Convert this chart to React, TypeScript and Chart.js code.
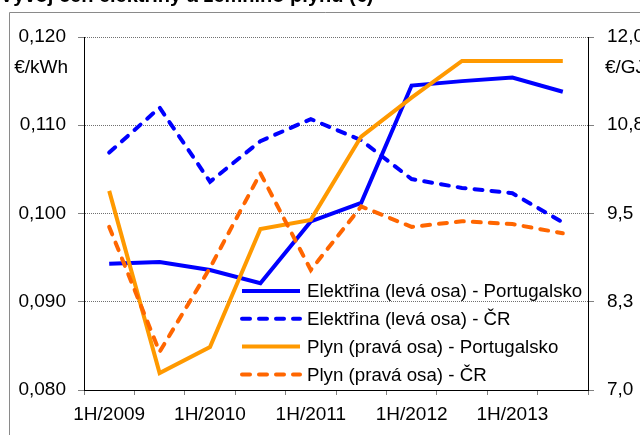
import React, { useEffect, useRef } from "react";
import { Chart, registerables } from "chart.js";

Chart.register(...registerables);

const categories = ["1H/2009", "2H/2009", "1H/2010", "2H/2010", "1H/2011", "2H/2011", "1H/2012", "2H/2012", "1H/2013", "2H/2013"];
const elektrinaPT = [0.0943, 0.0945, 0.0936, 0.0921, 0.0991, 0.1012, 0.1145, 0.115, 0.1154, 0.1138];
const elektrinaCR = [0.1069, 0.112, 0.1036, 0.1082, 0.1107, 0.1083, 0.1039, 0.1029, 0.1023, 0.099];
const plynPT = [9.82, 7.24, 7.61, 9.28, 9.41, 10.59, 11.14, 11.66, 11.66, 11.66];
const plynCR = [9.31, 7.54, 8.73, 10.07, 8.7, 9.6, 9.31, 9.39, 9.35, 9.22];
const seriesNames = [
  "Elektřina (levá osa) - Portugalsko",
  "Elektřina (levá osa) - ČR",
  "Plyn (pravá osa) - Portugalsko",
  "Plyn (pravá osa) - ČR",
];
const titleText = "Vývoj cen elektřiny a zemního plynu (€)";
const leftUnit = "€/kWh";
const rightUnit = "€/GJ";

const FONT = "'Liberation Sans', Arial, sans-serif";

const decorPlugin = {
  id: "decor",
  beforeDraw(chart: any) {
    const ctx = chart.ctx;
    ctx.save();
    ctx.fillStyle = "#fff";
    ctx.fillRect(0, 0, chart.width, chart.height);
    ctx.strokeStyle = "#8a8a8a";
    ctx.lineWidth = 1;
    ctx.beginPath();
    ctx.moveTo(9.5, chart.height + 5);
    ctx.lineTo(9.5, 12.5);
    ctx.lineTo(chart.width + 5, 12.5);
    ctx.stroke();
    ctx.fillStyle = "#000";
    ctx.font = `bold 20px ${FONT}`;
    ctx.textBaseline = "alphabetic";
    ctx.textAlign = "left";
    ctx.fillText(titleText, 0, 2);
    ctx.font = `19px ${FONT}`;
    ctx.textBaseline = "middle";
    ctx.textAlign = "right";
    ctx.fillText(leftUnit, 68, 68);
    ctx.textAlign = "left";
    ctx.fillText(rightUnit, 605, 68);
    ctx.restore();
  },
  afterDatasetsDraw(chart: any) {
    const ctx = chart.ctx;
    const ds = chart.data.datasets;
    ctx.save();
    ctx.font = `18.7px ${FONT}`;
    ctx.textBaseline = "middle";
    ctx.textAlign = "left";
    for (let i = 0; i < ds.length; i++) {
      const y = 291 + i * 27.8;
      ctx.strokeStyle = ds[i].borderColor;
      ctx.lineWidth = ds[i].borderWidth;
      ctx.lineCap = ds[i].borderCapStyle || "butt";
      ctx.setLineDash(ds[i].borderDash || []);
      ctx.beginPath();
      ctx.moveTo(242, y);
      ctx.lineTo(300, y);
      ctx.stroke();
      ctx.setLineDash([]);
      ctx.fillStyle = "#000";
      ctx.fillText(ds[i].label, 307, y + 1);
    }
    ctx.restore();
  },
};

export default function App() {
  const ref = useRef<HTMLCanvasElement>(null);
  useEffect(() => {
    document.body.style.margin = "0";
    const canvas = ref.current!;
    const common = { pointRadius: 0, pointHoverRadius: 0, borderWidth: 4, tension: 0, fill: false };
    const chart = new Chart(canvas, {
      type: "line",
      data: {
        labels: categories,
        datasets: [
          { ...common, label: seriesNames[0], data: elektrinaPT, borderColor: "#0000ff", yAxisID: "y", order: 4, borderCapStyle: "butt" },
          { ...common, label: seriesNames[1], data: elektrinaCR, borderColor: "#0000ff", borderDash: [8, 9], borderCapStyle: "round", yAxisID: "y", order: 3 },
          { ...common, label: seriesNames[2], data: plynPT, borderColor: "#ff9900", yAxisID: "y1", order: 2, borderCapStyle: "butt" },
          { ...common, label: seriesNames[3], data: plynCR, borderColor: "#ff6600", borderDash: [8, 9], borderCapStyle: "round", yAxisID: "y1", order: 1 },
        ] as any,
      },
      options: {
        animation: false,
        responsive: false,
        events: [],
        layout: { padding: { top: 37, left: 0, right: 0, bottom: 0 } },
        plugins: { legend: { display: false }, tooltip: { enabled: false }, title: { display: false } },
        scales: {
          x: {
            type: "category",
            offset: true,
            grid: { display: true, drawOnChartArea: false, drawTicks: true, tickLength: 5, offset: true, tickColor: "#808080" },
            border: { display: true, color: "#000", width: 1 },
            ticks: {
              autoSkip: false,
              maxRotation: 0,
              padding: 8,
              color: "#000",
              font: { family: FONT, size: 19 },
              callback: (_v: any, i: number) => (i % 2 === 0 ? categories[i] : ""),
            },
            afterFit: (s: any) => { s.height = 45; },
          },
          y: {
            position: "left",
            min: 0.08,
            max: 0.12,
            grid: { color: "#707070", drawTicks: true, tickLength: 6, tickColor: "#808080", tickBorderDash: [] } as any,
            border: { display: true, color: "#000", width: 1, dash: [1, 1] },
            ticks: {
              stepSize: 0.01,
              padding: 12,
              color: "#000",
              font: { family: FONT, size: 19 },
              callback: (v: any) => Number(v).toFixed(3).replace(".", ","),
            },
            afterFit: (s: any) => { s.width = 84; },
          },
          y1: {
            position: "right",
            min: 7,
            max: 12,
            grid: { drawOnChartArea: false, drawTicks: true, tickLength: 6, tickColor: "#808080" },
            border: { display: true, color: "#000", width: 1 },
            ticks: {
              stepSize: 1.25,
              padding: 13,
              color: "#000",
              font: { family: FONT, size: 19 },
              callback: (v: any) => Number(v).toFixed(1).replace(".", ","),
            },
            afterFit: (s: any) => { s.width = 52; },
          },
        },
      } as any,
      plugins: [decorPlugin],
    });
    return () => chart.destroy();
  }, []);
  return (
    <div style={{ position: "absolute", left: 0, top: 0, width: 640, height: 435 }}>
      <canvas ref={ref} width={640} height={435} style={{ width: 640, height: 435, display: "block" }} />
    </div>
  );
}
